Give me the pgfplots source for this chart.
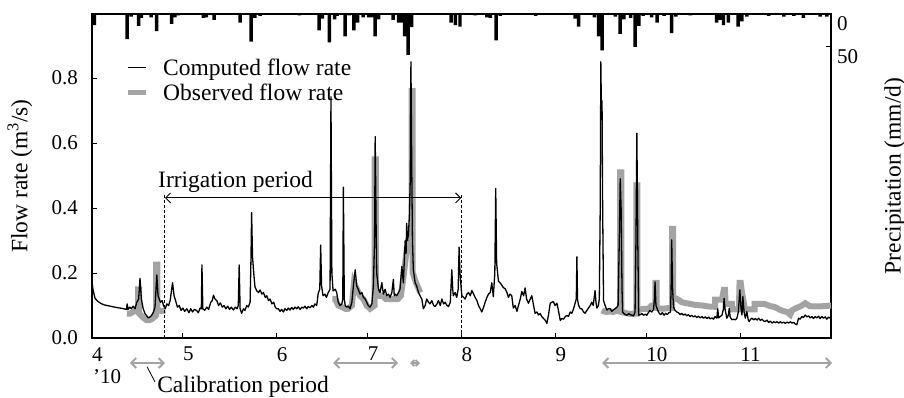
\documentclass[border=0pt]{standalone}
\usepackage{fontspec}
\setmainfont{Liberation Serif}
\usepackage{pgfplots}
\usepackage{pgfplotstable}
\pgfplotsset{compat=1.18}
\usetikzlibrary{arrows.meta}
\definecolor{obs}{RGB}{163,163,163}

\pgfplotstableread{
x y
0 0.175
0.3 0.15
1 0.122
2 0.112
3 0.106
4 0.102
6 0.098
8 0.094
10 0.091
11.4 0.088
11.6 0.105
11.9 0.088
12.5 0.095
13 0.09
13.6 0.098
14.2 0.09
14.8 0.11
15.4 0.12
15.85 0.184
16.3 0.12
16.9 0.09
17.5 0.075
18.1 0.068
18.6 0.062
19.2 0.065
19.7 0.07
20.3 0.08
20.8 0.095
21.4 0.194
21.8 0.13
22.2 0.12
22.6 0.11
23.2 0.115
23.6 0.1
24.2 0.09
24.7 0.105
25.3 0.1
25.8 0.115
26.6 0.17
27.1 0.13
27.6 0.115
28.2 0.095
28.8 0.1
29.4 0.085
30 0.092
30.6 0.082
31.3 0.09
32 0.078
32.6 0.09
33.2 0.08
33.8 0.088
34.5 0.085
35.1 0.078
35.7 0.092
36.1 0.09
36.3 0.225
36.6 0.09
37.2 0.085
37.9 0.095
38.5 0.088
39.2 0.11
39.7 0.115
40.1 0.132
40.6 0.12
41.2 0.115
41.8 0.1
42.4 0.108
43 0.095
43.6 0.1
44.2 0.09
44.8 0.098
45.4 0.088
46 0.095
46.7 0.086
47.3 0.095
47.9 0.09
48.3 0.1
48.6 0.225
48.9 0.09
49.4 0.076
50 0.09
50.5 0.085
51.1 0.1
51.6 0.095
52.2 0.11
52.5 0.25
52.7 0.386
53 0.25
53.4 0.2
53.8 0.158
54.4 0.145
55 0.14
55.5 0.148
56.1 0.135
56.6 0.14
57.2 0.125
57.7 0.13
58.3 0.115
58.8 0.12
59.4 0.105
60 0.11
60.5 0.095
61 0.09
61.5 0.09
62.1 0.082
62.6 0.088
63.2 0.08
63.7 0.09
64.3 0.085
64.8 0.092
65.4 0.086
65.9 0.094
66.5 0.088
67 0.095
67.6 0.09
68.1 0.096
68.7 0.088
69.3 0.095
69.8 0.092
70.3 0.098
70.9 0.09
71.4 0.097
72 0.093
72.6 0.1
73.1 0.095
73.6 0.105
74.2 0.1
74.7 0.138
75.2 0.15
75.5 0.286
75.8 0.16
76.3 0.13
76.9 0.135
77.4 0.125
78 0.14
78.6 0.15
78.9 0.742
79.2 0.2
79.6 0.145
80.3 0.15
80.8 0.14
81.3 0.11
81.9 0.1
82.5 0.105
82.8 0.12
83 0.464
83.3 0.12
83.6 0.1
84.1 0.095
84.6 0.098
85.2 0.09
85.8 0.11
86.3 0.16
86.9 0.21
87.4 0.16
87.9 0.15
88.5 0.135
89.1 0.14
89.6 0.125
90.2 0.12
90.7 0.11
91.2 0.1
91.8 0.095
92.4 0.105
92.9 0.16
93.3 0.3
93.5 0.62
93.8 0.35
94 0.2
94.6 0.15
95.1 0.14
95.7 0.17
96.2 0.135
96.8 0.15
97.3 0.13
97.9 0.135
98.4 0.125
99 0.14
99.5 0.18
99.8 0.13
100.1 0.135
100.6 0.13
101.2 0.14
101.7 0.15
102.3 0.22
102.8 0.17
103.4 0.3
103.7 0.26
103.9 0.353
104.2 0.3
104.5 0.32
104.8 0.38
105.1 0.5
105.3 0.85
105.6 0.5
105.8 0.3
106.1 0.21
106.7 0.17
107.2 0.16
107.8 0.14
108.3 0.13
108.9 0.12
109.4 0.09
110 0.1
110.5 0.12
111.1 0.11
111.6 0.105
112.2 0.115
112.8 0.1
113.3 0.097
113.9 0.105
114.4 0.115
115 0.1
115.5 0.12
116.1 0.105
116.6 0.11
117.2 0.1
117.7 0.097
118.3 0.11
118.8 0.21
119.1 0.15
119.3 0.13
119.9 0.14
120.4 0.125
120.9 0.15
121.2 0.28
121.5 0.2
122.1 0.13
122.7 0.125
123.2 0.12
123.8 0.135
124.3 0.14
124.9 0.13
125.4 0.146
126 0.135
126.5 0.125
127.1 0.115
127.6 0.1
128.2 0.09
128.7 0.08
129.3 0.095
129.8 0.11
130.4 0.125
130.9 0.135
131.5 0.14
132 0.17
132.5 0.127
133 0.2
133.3 0.46
133.6 0.23
134.2 0.175
134.7 0.17
135.3 0.163
135.8 0.155
136.4 0.152
137 0.14
137.5 0.125
138 0.135
138.6 0.13
139.1 0.092
139.7 0.1
140.3 0.082
140.8 0.1
141.4 0.12
141.9 0.143
142.5 0.13
143 0.154
143.5 0.12
144.1 0.107
144.7 0.12
145.2 0.13
145.8 0.1
146.3 0.076
146.9 0.08
147.4 0.071
148 0.075
148.5 0.066
149.1 0.06
149.6 0.055
150.2 0.045
150.7 0.07
151.3 0.107
151.8 0.11
152.3 0.112
152.9 0.1
153.5 0.107
154 0.085
154.6 0.054
155.1 0.06
155.7 0.058
156.2 0.065
156.8 0.07
157.3 0.066
157.9 0.08
158.4 0.076
159 0.09
159.5 0.107
159.9 0.12
160.1 0.25
160.3 0.12
160.6 0.102
161.2 0.09
161.7 0.09
162.3 0.08
162.8 0.076
163.4 0.085
163.9 0.092
164.5 0.1
165 0.11
165.5 0.1
166.1 0.146
166.4 0.11
166.7 0.092
167.2 0.1
167.5 0.12
167.8 0.4
168.0 0.85
168.2 0.7
168.4 0.73
168.6 0.4
168.9 0.115
169.4 0.1
170 0.086
170.5 0.09
171.1 0.09
171.6 0.082
172.1 0.086
172.7 0.09
173.3 0.095
173.7 0.1
174.1 0.3
174.4 0.49
174.7 0.4
175 0.15
175.2 0.08
175.6 0.075
176.2 0.072
176.6 0.07
177.2 0.075
177.7 0.072
178.3 0.07
178.8 0.068
179.3 0.08
179.6 0.3
179.9 0.63
180.2 0.3
180.5 0.07
181 0.072
181.6 0.075
182.1 0.07
182.7 0.073
183.2 0.07
183.7 0.078
184.2 0.085
184.8 0.08
185.4 0.088
185.7 0.12
185.9 0.173
186.2 0.1
186.8 0.085
187.3 0.076
187.8 0.072
188.3 0.078
188.9 0.07
189.4 0.076
189.9 0.072
190.5 0.078
191 0.08
191.2 0.15
191.4 0.302
191.7 0.15
192 0.095
192.5 0.085
193.1 0.08
193.6 0.078
194.2 0.072
194.7 0.076
195.3 0.07
195.8 0.074
196.4 0.068
196.9 0.072
197.5 0.066
198 0.07
198.6 0.065
199.1 0.068
199.7 0.063
200.2 0.067
200.8 0.062
201.4 0.066
201.9 0.061
202.5 0.065
203 0.06
203.6 0.064
204.1 0.059
204.7 0.062
205.2 0.058
205.7 0.066
206.3 0.061
206.6 0.09
206.9 0.062
207.4 0.066
208 0.07
208.5 0.09
208.7 0.122
209 0.09
209.6 0.061
210.1 0.07
210.4 0.091
210.7 0.065
211.3 0.056
211.8 0.058
212.4 0.056
212.9 0.06
213.4 0.08
213.9 0.148
214.3 0.09
214.6 0.071
214.9 0.127
215.3 0.08
215.7 0.061
216.2 0.081
216.7 0.055
217 0.051
217.5 0.058
217.9 0.061
218.5 0.056
219 0.06
219.6 0.055
220.1 0.061
220.7 0.054
221.2 0.058
221.8 0.052
222.3 0.051
222.9 0.055
223.4 0.048
224 0.052
224.5 0.046
225.1 0.05
225.6 0.047
226.2 0.05
226.7 0.046
227.3 0.05
227.8 0.046
228.4 0.049
228.9 0.045
229.5 0.049
230 0.046
230.6 0.05
231.1 0.046
231.7 0.048
232.2 0.043
232.7 0.041
233.3 0.061
233.8 0.058
234.4 0.066
234.9 0.063
235.5 0.071
236 0.065
236.6 0.068
237.1 0.062
237.7 0.066
238.2 0.06
238.8 0.066
239.3 0.062
239.9 0.067
240.4 0.06
241 0.066
241.5 0.061
242.1 0.065
242.6 0.058
243.2 0.064
244 0.06
}\computed

\pgfplotstableread{
x y
11.5 0.075
12.5 0.075
13.5 0.08
14.5 0.085
15.2 0.085
15.2 0.15
15.6 0.15
15.6 0.075
17 0.062
18 0.055
19 0.055
20 0.06
21.2 0.07
21.2 0.226
21.6 0.226
21.6 0.085
23 0.083
24.2 0.085
}\obsA

\pgfplotstableread{
x y
79.4 0.12
80.3 0.12
81.3 0.1
82.5 0.095
83.6 0.09
84.6 0.09
85.8 0.1
86.5 0.17
87.5 0.15
88.5 0.13
89.6 0.12
90.7 0.1
91.8 0.09
93.3 0.1
93.3 0.55
93.7 0.55
93.7 0.15
95 0.13
96 0.13
97 0.12
98 0.12
99 0.12
100 0.12
101 0.12
102 0.13
103 0.2
104 0.28
105.5 0.3
105.5 0.76
105.9 0.76
105.9 0.2
107 0.17
108.4 0.14
}\obsB

\pgfplotstableread{
x y
168.3 0.085
169 0.082
170 0.08
171 0.082
172 0.08
173 0.083
174.4 0.083
174.4 0.51
174.8 0.51
174.8 0.08
176.6 0.076
177.7 0.074
178.8 0.075
179.7 0.075
179.7 0.47
180.1 0.47
180.1 0.085
182 0.09
183.7 0.09
184.8 0.1
186.0 0.1
186.0 0.17
186.4 0.17
186.4 0.092
188.5 0.09
190.3 0.092
191.5 0.092
191.5 0.336
191.9 0.336
191.9 0.125
193.6 0.118
194.7 0.11
196.9 0.106
199.1 0.102
201.5 0.1
203.5 0.097
205.7 0.096
205.7 0.118
208.0 0.118
208.6 0.148
209.0 0.148
209.2 0.105
211.3 0.105
211.5 0.088
213.6 0.088
213.8 0.17
214.2 0.17
214.6 0.14
215.0 0.12
215.6 0.088
218.8 0.088
218.8 0.105
222 0.105
224 0.098
225.5 0.095
227.5 0.085
229.5 0.08
230.5 0.072
231.1 0.085
232.5 0.092
234 0.098
235.5 0.107
237 0.098
239 0.097
242 0.098
244 0.1
}\obsC

\pgfplotstableread{
x p
0.8 17
11.6 38
12.9 4
15.4 18
16.3 6
19.5 5
21.3 26
26.3 15
27.4 5
28.5 2
36.8 6
37.8 5
40.3 9
48.9 13
52.5 42
53.8 6
55.5 3
68.5 2
75.0 25
76.1 7
78.4 43
80.1 8
80.9 3
83.6 34
84.9 2
86.5 25
87.7 13
89.5 5
91.3 5
92.3 5
93.5 34
94.6 8
99.4 9
101.2 13
102.2 13
103.2 34
104.4 62
105.5 20
118.6 13
120.0 17
121.5 19
126.5 2
130.4 5
131.5 6
133.4 40
134.8 3
146.5 3
159.5 7
160.7 19
165.9 5
167.3 34
168.4 55
172.8 4
174.4 30
175.6 8
177.8 6
179.3 50
180.6 18
182.0 3
184.8 5
186.6 13
188.9 3
191.4 29
192.8 4
197.5 2
206.2 13
207.4 9
208.5 17
210.1 13
213.3 19
214.6 11
216.2 4
223.4 3
228.4 4
231.7 3
234.9 6
240.4 4
242.6 4
}\precip

\begin{document}
\begin{tikzpicture}
\path[use as bounding box] (0pt,0pt) rectangle (904pt,398pt);

% precipitation axis (top, reversed)
\begin{axis}[
  at={(461.5pt,222pt)}, anchor=center,
  scale only axis, width=739pt, height=324pt,
  xmin=0, xmax=244, ymin=0, ymax=491, y dir=reverse,
  axis x line=none, axis y line*=right,
  axis line style={line width=1.2pt},
  ytick={0,50}, ytick pos=right,
  tick align=inside, major tick length=5pt,
  every tick/.style={line width=1pt, black},
  /pgf/number format/assume math mode=true,
  yticklabel style={font=\fontsize{21}{21}\selectfont, anchor=west, inner sep=0pt, xshift=6pt, yshift=-10pt},
  ylabel={Precipitation (mm/d)},
  every axis y label/.style={at={(axis description cs:1.0866,0.5)}, rotate=90, anchor=center, font=\fontsize{23.5}{23.5}\selectfont},
  ybar, bar width=1.15, bar shift=0pt,
]
\addplot[fill=black, draw=none] table[x=x, y=p] {\precip};
\end{axis}

% flow axis
\begin{axis}[
  at={(461.5pt,222pt)}, anchor=center,
  scale only axis, width=739pt, height=324pt,
  xmin=0, xmax=244, ymin=0, ymax=0.997,
  clip mode=individual,
  axis line style={line width=1.2pt},
  xtick={0,30,61,91,122,153,183,214},
  xticklabels={4,5,6,7,8,9,10,11},
  xtick pos=bottom, ytick pos=left,
  ytick={0,0.2,0.4,0.6,0.8},
  tick align=inside, major tick length=5pt,
  every tick/.style={line width=1pt, black},
  /pgf/number format/assume math mode=true,
  /pgf/number format/.cd, fixed, fixed zerofill, precision=1, /pgfplots/.cd,
  xticklabel style={font=\fontsize{21}{21}\selectfont, anchor=north west, inner sep=0pt, yshift=-9pt},
  yticklabel style={font=\fontsize{21}{21}\selectfont, anchor=east, inner sep=0pt, xshift=-14pt},
  ylabel={Flow rate (m\textsuperscript{3}/s)},
  every axis y label/.style={at={(axis description cs:-0.0974,0.5)}, rotate=90, anchor=center, font=\fontsize{23.5}{23.5}\selectfont},
  legend style={draw=none, fill=none, at={(axis description cs:0.0447,0.866)}, anchor=north west,
    inner sep=0pt, font=\fontsize{23.5}{23.5}\selectfont, row sep=5pt, column sep=14pt,
    nodes={inner sep=1pt}},
  legend cell align=left,
  legend image code/.code={\draw[#1] (0pt,0pt) -- (18pt,0pt);},
]
\addlegendimage{black, line width=1.2pt}
\addlegendentry{Computed flow rate}
\addlegendimage{obs, line width=5pt}
\addlegendentry{Observed flow rate}

\addplot[obs, line width=6pt, line join=miter, line cap=butt, forget plot] table {\obsA};
\addplot[obs, line width=6pt, line join=miter, line cap=butt, forget plot] table {\obsB};
\addplot[obs, line width=6pt, line join=miter, line cap=butt, forget plot] table {\obsC};
\addplot[black, line width=1.3pt, line join=round, forget plot] table {\computed};

% irrigation period
\draw[densely dashed, line width=1pt] (axis cs:24.1,0) -- (axis cs:24.1,0.445);
\draw[densely dashed, line width=1pt] (axis cs:121.9,0) -- (axis cs:121.9,0.445);
\draw[{Straight Barb[length=5pt]}-{Straight Barb[length=5pt]}, line width=0.9pt] (axis cs:24.1,0.431) -- (axis cs:121.9,0.431);
\node[anchor=west, inner sep=0pt, font=\fontsize{23.5}{23.5}\selectfont] at (axis cs:21.8,0.48) {Irrigation period};

% calibration periods
\draw[obs, line width=2pt, {Straight Barb[length=5pt]}-{Straight Barb[length=5pt]}] (axis cs:12.5,-0.077) -- (axis cs:24.1,-0.077);
\draw[obs, line width=2pt, {Straight Barb[length=5pt]}-{Straight Barb[length=5pt]}] (axis cs:79.6,-0.077) -- (axis cs:101.1,-0.077);
\draw[obs, line width=2pt, {Straight Barb[length=3pt]}-{Straight Barb[length=3pt]}] (axis cs:105,-0.077) -- (axis cs:108.3,-0.077);
\draw[obs, line width=2pt, {Straight Barb[length=5pt]}-{Straight Barb[length=5pt]}] (axis cs:168.4,-0.077) -- (axis cs:244.4,-0.077);
\draw[line width=0.8pt] (axis cs:18.2,-0.089) -- (axis cs:20.8,-0.135);
\node[anchor=west, inner sep=0pt, font=\fontsize{23.5}{23.5}\selectfont] at (axis cs:21.5,-0.151) {Calibration period};
\node[anchor=west, inner sep=0pt, font=\fontsize{21}{21}\selectfont] at (axis cs:0.3,-0.118) {’10};
\end{axis}
\end{tikzpicture}
\end{document}
